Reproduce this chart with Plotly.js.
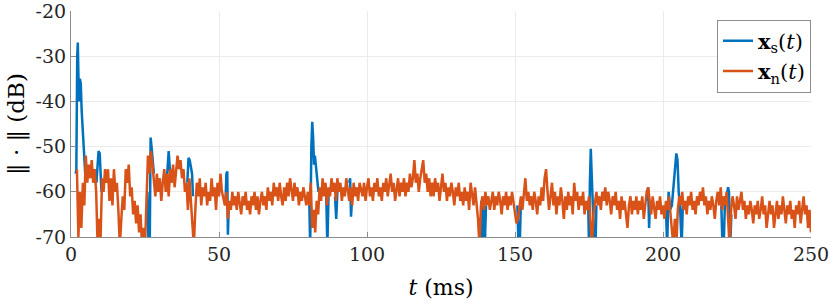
<!DOCTYPE html>
<html>
<head>
<meta charset="utf-8">
<script src="https://cdn.plot.ly/plotly-3.0.1.min.js"></script>
<style>
  html, body { margin: 0; padding: 0; background: #fff; }
  #plot { width: 830px; height: 304px; }
</style>
</head>
<body>
<div id="plot"></div>
<script>
// noise component x_n(t), sampled every 0.5 ms from t = 2 ms (dB)
const noiseStart = 2;
const noiseStep = 0.5;
const noiseDb = [
  -55, -70, -60, -68, -58, -63, -52, -58, -54, -57, -53, -58, -55, -60, -72, -66, -70, -57, -60, -55, // 2
  -58, -55, -62, -57, -63, -55, -60, -58, -64, -72, -66, -61, -64, -55, -58, -54, -61, -59, -65, -62, // 12
  -67, -63, -69, -65, -72, -68, -72, -60, -52, -56, -51, -54, -58, -61, -56, -60, -57, -62, -58, -55, // 22
  -60, -56, -61, -55, -58, -54, -59, -56, -52, -55, -53, -57, -55, -60, -58, -64, -57, -62, -66, -72, // 32
  -64, -58, -61, -57, -63, -59, -61, -58, -63, -60, -62, -57, -61, -59, -64, -58, -61, -56, -60, -62, // 42
  -63, -60, -66, -62, -64, -60, -63, -61, -64, -60, -62, -65, -61, -63, -60, -64, -62, -65, -61, -63, // 52
  -60, -64, -61, -65, -62, -60, -63, -61, -64, -59, -62, -60, -63, -58, -61, -59, -62, -58, -61, -63, // 62
  -59, -62, -58, -61, -57, -60, -62, -58, -61, -59, -63, -60, -62, -59, -61, -63, -60, -63, -58, -68, // 72
  -64, -69, -62, -65, -59, -62, -57, -61, -58, -63, -59, -61, -57, -60, -58, -62, -57, -60, -58, -62, // 82
  -59, -61, -57, -60, -62, -59, -63, -58, -61, -59, -62, -58, -60, -61, -58, -62, -59, -57, -61, -59, // 92
  -62, -58, -60, -57, -61, -59, -62, -58, -60, -57, -61, -59, -56, -60, -58, -62, -59, -57, -61, -58, // 102
  -60, -57, -61, -58, -60, -56, -59, -57, -53, -58, -56, -60, -57, -55, -53, -58, -56, -60, -57, -61, // 112
  -58, -61, -57, -60, -58, -62, -59, -56, -60, -58, -62, -59, -61, -58, -60, -63, -59, -61, -58, -62, // 122
  -60, -63, -59, -62, -60, -64, -58, -61, -63, -59, -62, -66, -72, -63, -61, -64, -60, -63, -61, -64, // 132
  -62, -60, -64, -61, -63, -60, -62, -65, -61, -63, -60, -64, -61, -63, -60, -62, -64, -67, -66, -63, // 142
  -61, -64, -60, -57, -62, -60, -63, -61, -64, -60, -62, -65, -61, -63, -59, -62, -57, -55, -60, -64, // 152
  -61, -58, -63, -60, -65, -61, -63, -59, -62, -66, -61, -64, -60, -63, -61, -65, -58, -62, -60, -64, // 162
  -61, -63, -60, -65, -62, -64, -61, -66, -72, -65, -62, -60, -63, -61, -64, -60, -62, -59, -63, -60, // 172
  -62, -65, -61, -63, -60, -64, -62, -66, -61, -64, -62, -65, -68, -63, -61, -65, -62, -64, -61, -65, // 182
  -62, -64, -61, -66, -63, -60, -59, -63, -65, -61, -63, -66, -62, -64, -61, -65, -63, -66, -62, -64, // 192
  -61, -64, -67, -72, -66, -72, -64, -61, -63, -60, -64, -62, -65, -61, -63, -60, -64, -62, -65, -61, // 202
  -63, -60, -62, -59, -63, -61, -65, -62, -64, -61, -63, -66, -62, -60, -63, -59, -64, -61, -63, -60, // 212
  -66, -72, -64, -61, -63, -66, -61, -64, -62, -60, -64, -62, -66, -63, -65, -62, -64, -67, -63, -65, // 222
  -62, -66, -64, -61, -65, -63, -68, -64, -62, -65, -63, -68, -64, -62, -66, -63, -65, -61, -64, -67, // 232
  -63, -65, -62, -66, -64, -68, -63, -65, -62, -67, -64, -61, -65, -63, -68, -64, -69                 // 242
];

// signal component x_s(t): only where it rises above / drops below the noise
const signalT = [
  1.6, 1.8, 2.1, 2.3, 2.5, 2.7, 3.0, 3.3, 3.6, 3.9, 4.2, 4.5, 4.8, null,
  8.6, 9.0, 9.3, 9.7, 10.0, 10.3, null,
  25.8, 26.2, 26.6, 26.9, 27.2, 27.6, 28.0, null,
  32.3, 32.7, 33.0, 33.4, 33.8, null,
  39.3, 39.7, 40.1, 40.5, 40.9, 41.2, null,
  52.2, 52.5, 52.8, 53.0, 53.3, null,
  80.5, 80.8, 81.2, 81.5, 81.8, 82.1, 82.4, 82.7, 83.2, 83.6, null,
  86.2, 86.6, 87.0, null,
  89.2, 89.6, 90.0, null,
  94.0, 94.3, 94.6, 95.0, null,
  138.6, 139.0, 139.4, 139.8, 140.2, null,
  150.8, 151.2, 151.6, 152.0, null,
  174.7, 175.0, 175.3, 175.6, 175.9, 176.3, 176.8, 177.2, 177.5, null,
  194.6, 195.0, 195.3, 195.6, null,
  201.0, 201.4, 201.9, 202.4, 203.0, 203.6, 204.0, 204.5, 204.9, 205.3, 205.8, 206.3, 206.7, null,
  219.7, 220.1, 220.5, 220.9, 222.0, 222.3, 222.7, 223.1
];
const signalDb = [
  -56, -55, -30, -27, -34, -40, -35, -36, -42, -45, -48, -53, -56, null,
  -58, -52, -51, -51.5, -55, -60, null,
  -60, -72, -72, -48, -50, -53, -56, null,
  -58, -52, -51, -55, -58, null,
  -58, -52.5, -53, -55, -56, -61, null,
  -62, -56, -55.5, -69.5, -63, null,
  -62, -72, -50, -44.5, -48, -54, -52, -54, -57, -60, null,
  -60, -72, -61, null,
  -61, -66, -60, null,
  -58, -57, -65.5, -61, null,
  -62, -72, -62, -72, -63, null,
  -63, -72, -72, -62, null,
  -62, -72, -58, -50.5, -56, -63, -72, -72, -63, null,
  -62, -59, -68, -62, null,
  -64, -72, -60, -64, -63, -58, -55, -51.5, -53, -60, -64, -72, -63, null,
  -63, -72, -72, -63, -59, -60, -72, -65
];

const xTicks = [0, 50, 100, 150, 200, 250];
const yTicks = [-70, -60, -50, -40, -30, -20];
const yTickText = ['-70', '-60', '-50', '-40', '-30', '-20'];

const serif = 'DejaVu Serif, Liberation Serif, serif';

const traces = [
  {
    type: 'scatter',
    mode: 'lines',
    name: '<b>x</b><sub>s</sub>(<i>t</i>)',
    x: signalT,
    y: signalDb,
    connectgaps: false,
    line: { color: '#0072BD', width: 2.5 }
  },
  {
    type: 'scatter',
    mode: 'lines',
    name: '<b>x</b><sub>n</sub>(<i>t</i>)',
    x0: noiseStart,
    dx: noiseStep,
    y: noiseDb,
    line: { color: '#D95319', width: 2.5 }
  }
];

const layout = {
  width: 830,
  height: 304,
  margin: { l: 71, r: 19, t: 11, b: 67 },
  paper_bgcolor: '#fff',
  plot_bgcolor: '#fff',
  font: { family: serif, size: 19, color: '#262626' },
  showlegend: true,
  legend: {
    x: 1, xanchor: 'right',
    y: 0.962, yanchor: 'top',
    bgcolor: '#fff',
    bordercolor: '#8c8c8c',
    borderwidth: 1,
    font: { family: serif, size: 21, color: '#000' }
  },
  xaxis: {
    range: [0, 250],
    tickmode: 'array',
    tickvals: xTicks,
    ticks: 'inside',
    ticklen: 5,
    tickcolor: '#8c8c8c',
    showline: true,
    linecolor: '#8c8c8c',
    linewidth: 1,
    showgrid: true,
    gridcolor: '#ebebeb',
    zeroline: false,
    ticklabeloverflow: 'allow',
    title: { text: '<i>t</i> (ms)', font: { family: serif, size: 22, color: '#000' }, standoff: 15 }
  },
  yaxis: {
    range: [-70, -20],
    tickmode: 'array',
    tickvals: yTicks,
    ticktext: yTickText,
    ticks: 'inside',
    ticklen: 5,
    tickcolor: '#8c8c8c',
    showline: true,
    linecolor: '#8c8c8c',
    linewidth: 1,
    showgrid: true,
    gridcolor: '#ebebeb',
    zeroline: false,
    ticklabeloverflow: 'allow',
    title: { text: '‖ · ‖ (dB)', font: { family: serif, size: 23, color: '#000' }, standoff: 4 }
  }
};

Plotly.newPlot('plot', traces, layout, { displayModeBar: false, staticPlot: true });
</script>
</body>
</html>
